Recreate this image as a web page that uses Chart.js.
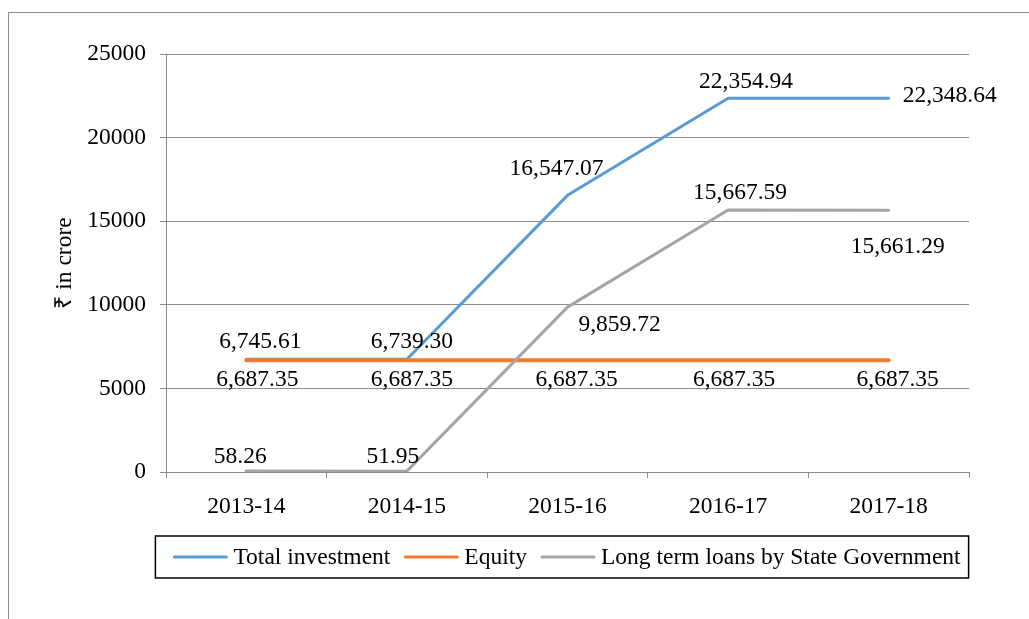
<!DOCTYPE html>
<html>
<head>
<meta charset="utf-8">
<script src="https://cdn.jsdelivr.net/npm/chart.js@4"></script>
<style>
  body { margin: 0; background: #fff; }
</style>
</head>
<body>
<canvas id="myChart" width="1029" height="619"></canvas>
<script>
// data
const years = ['2013-14', '2014-15', '2015-16', '2016-17', '2017-18'];
const totalInvestment = [6745.61, 6739.30, 16547.07, 22354.94, 22348.64];
const equity = [6687.35, 6687.35, 6687.35, 6687.35, 6687.35];
const stateLoans = [58.26, 51.95, 9859.72, 15667.59, 15661.29];
const yTicks = [0, 5000, 10000, 15000, 20000, 25000];

// where each value label sits, relative to its point (dx, dy of text centre)
const labelOffsets = [
    [[14, -17], [5, -17], [-11, -27], [18, -16], [61, -3]],
    [[11, 20], [5, 20], [9, 20], [6, 20], [9, 20]],
    [[-6, -14], [-14, -14], [52, 18], [12, -17], [9, 37]]
];

const FONT = "'Liberation Serif', 'Times New Roman', serif";
const FSIZE = 23.5;
Chart.defaults.font.family = FONT;
Chart.defaults.font.size = FSIZE;
Chart.defaults.color = '#000';

function fmt(v) {
    return v.toLocaleString('en-US', {minimumFractionDigits: 2, maximumFractionDigits: 2});
}

const extras = {
    id: 'extras',
    beforeDraw(chart) {
        const c = chart.ctx;
        c.save();
        c.strokeStyle = '#8c8c8c';
        c.lineWidth = 1;
        c.strokeRect(8.5, 12.5, 1200, 1000);
        c.restore();
    },
    afterDatasetsDraw(chart) {
        const c = chart.ctx;
        c.save();
        c.font = FSIZE + 'px ' + FONT;
        c.fillStyle = '#000';
        c.textAlign = 'center';
        c.textBaseline = 'middle';
        chart.data.datasets.forEach((ds, i) => {
            chart.getDatasetMeta(i).data.forEach((pt, j) => {
                const off = labelOffsets[i][j];
                c.fillText(fmt(ds.data[j]), pt.x + off[0], pt.y + off[1]);
            });
        });
        c.restore();
    },
    afterDraw(chart) {
        // legend
        const c = chart.ctx;
        const area = chart.chartArea;
        c.save();
        c.font = FSIZE + 'px ' + FONT;
        const lineW = 52, gapText = 7, gapItem = 15;
        let total = 0;
        chart.data.datasets.forEach((ds, i) => {
            total += lineW + gapText + c.measureText(ds.label).width;
            if (i < chart.data.datasets.length - 1) total += gapItem;
        });
        let x = (area.left + area.right) / 2 - total / 2;
        const y = 557;
        c.strokeStyle = '#000';
        c.lineWidth = 1.5;
        c.strokeRect(x - 19, 536, total + 27, 42);
        c.textBaseline = 'middle';
        c.textAlign = 'left';
        chart.data.datasets.forEach((ds) => {
            c.strokeStyle = ds.borderColor;
            c.lineWidth = 3;
            c.lineCap = 'round';
            c.beginPath();
            c.moveTo(x, y);
            c.lineTo(x + lineW, y);
            c.stroke();
            x += lineW + gapText;
            c.fillStyle = '#000';
            c.fillText(ds.label, x, y + 1);
            x += c.measureText(ds.label).width + gapItem;
        });
        c.restore();
    }
};

const ctx = document.getElementById('myChart').getContext('2d');
new Chart(ctx, {
    type: 'line',
    data: {
        labels: years,
        datasets: [
            {label: 'Total investment', data: totalInvestment, borderColor: '#5B9BD5', borderWidth: 3, order: 3},
            {label: 'Equity', data: equity, borderColor: '#ED7D31', borderWidth: 4, order: 2},
            {label: 'Long term loans by State Government', data: stateLoans, borderColor: '#A5A5A5', borderWidth: 3, order: 1}
        ].map(d => Object.assign(d, {
            pointRadius: 0, fill: false, tension: 0,
            borderCapStyle: 'round', borderJoinStyle: 'round'
        }))
    },
    options: {
        responsive: false,
        animation: false,
        layout: {padding: {left: 40, right: 60, top: 54, bottom: 100}},
        plugins: {legend: {display: false}, tooltip: {enabled: false}},
        scales: {
            x: {
                offset: true,
                grid: {offset: true, drawOnChartArea: false, drawTicks: true, tickLength: 6, color: '#8c8c8c'},
                border: {display: true, color: '#8c8c8c'},
                ticks: {padding: 15, maxRotation: 0},
                afterFit: (s) => { s.height = 47; }
            },
            y: {
                min: 0, max: 25000,
                afterBuildTicks: (s) => { s.ticks = yTicks.map(v => ({value: v})); },
                grid: {color: '#8c8c8c', tickLength: 6},
                border: {display: true, color: '#8c8c8c'},
                ticks: {padding: 14, callback: (v) => String(v)},
                title: {display: true, text: '₹ in crore', padding: {top: 11, bottom: 0}},
                afterFit: (s) => { s.width = 126; }
            }
        }
    },
    plugins: [extras]
});
</script>
</body>
</html>
